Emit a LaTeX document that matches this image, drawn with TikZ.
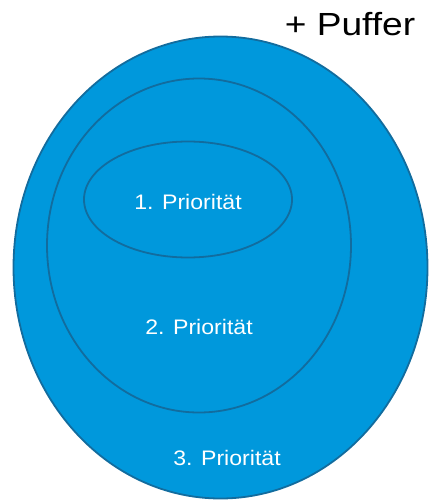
\documentclass[tikz,border=0pt]{standalone}
\usepackage{fontspec}
\setmainfont{Liberation Sans}
\definecolor{fillblue}{RGB}{0,152,220}
\definecolor{edgeblue}{RGB}{18,108,158}
\begin{document}
\begin{tikzpicture}[x=1pt,y=-1pt,
  ring/.style={draw=edgeblue, fill=fillblue, line width=1.8pt},
  lbl/.style={text=white, font=\fontsize{21}{24}\selectfont, anchor=base, inner sep=0pt},
  head/.style={text=black, font=\fontsize{32}{36}\selectfont, anchor=base, inner sep=0pt}]
\useasboundingbox (0,0) rectangle (429,500);
\draw[ring] (220.5,267.5) ellipse [x radius=207, y radius=231];
\draw[ring] (199,245.5) ellipse [x radius=152, y radius=167];
\draw[ring] (188,199.5) ellipse [x radius=104, y radius=58];
\node[lbl] (p1) at (188,209) {\scalebox{1.1}[1]{1. Priorität}};
\node[lbl] (p2) at (199,334) {\scalebox{1.1}[1]{2. Priorität}};
\node[lbl] (p3) at (227,465) {\scalebox{1.1}[1]{3. Priorität}};
\node[head] (puffer) at (350,36) {\scalebox{1.16}[1]{+ Puffer}};
\end{tikzpicture}
\end{document}
